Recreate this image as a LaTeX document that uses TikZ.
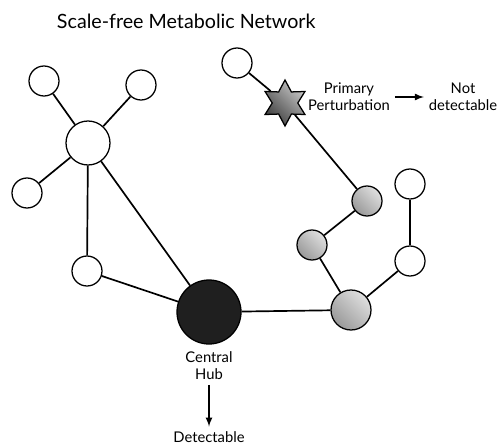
\documentclass[tikz,border=0pt]{standalone}
\usepackage{fontspec}
\setmainfont{Lato}
\usetikzlibrary{positioning}
\usetikzlibrary{arrows}
\usetikzlibrary{shapes.geometric}
\tikzset{plein/.style={line width=1.2pt}}
\tikzset{blanc/.style={shape=circle,draw,line width=0.9pt,fill=white,inner sep=0pt,minimum size=0.75cm}}
\tikzset{gris/.style={blanc,left color=gray!25,right color=gray!80,shading angle=-45}}
\tikzset{etiq/.style={align=center,font=\fontsize{10.5pt}{12pt}\selectfont}}

\begin{document}
\begin{tikzpicture}[x=0.025cm,y=-0.025cm]
\useasboundingbox (0,0) rectangle (497,446);
\node[anchor=west,font=\fontsize{14pt}{16pt}\selectfont] (T) at (52,21) {Scale-free Metabolic Network};

\node(Hw) at (88,143) [blanc,minimum size=1.1cm] {};
\node(W1) at (44,81) [blanc] {};
\node(W2) at (141,85) [blanc] {};
\node(W3) at (27,193) [blanc] {};
\node(W4) at (87,271) [blanc] {};
\node(C) at (209,312) [shape=circle,draw,line width=0.9pt,fill=black!88,minimum size=1.6cm] {};
\node(G3) at (351,310) [gris,minimum size=1cm] {};
\node(G2) at (312,245) [gris] {};
\node(G1) at (367,201) [gris] {};
\node(R2) at (410,261) [blanc] {};
\node(R1) at (410,184) [blanc] {};
\node(P) at (237,63) [blanc] {};
\node(S) at (285,103) [shape=star,star points=6,star point ratio=1.8,minimum size=1.15cm,inner sep=0pt,draw,line width=0.9pt,left color=gray!45,right color=black!75,shading angle=-45] {};

\node(Pp) at (349,97) [etiq] {Primary\\Perturbation};
\node(Nd) at (463,97) [etiq] {Not\\detectable};
\node(Ch) at (209,366) [etiq] {Central\\Hub};
\node(D) at (209,437) [etiq] {Detectable};

\draw[plein] (Hw)--(W1);
\draw[plein] (Hw)--(W2);
\draw[plein] (Hw)--(W3);
\draw[plein] (Hw)--(W4);
\draw[plein] (Hw)--(C);
\draw[plein] (W4)--(C);
\draw[plein] (C)--(G3);
\draw[plein] (G3)--(G2);
\draw[plein] (G2)--(G1);
\draw[plein] (G1)--(S);
\draw[plein] (S)--(P);
\draw[plein] (G3)--(R2);
\draw[plein] (R2)--(R1);

\draw[->, >=latex, plein] (Pp)--(Nd);
\draw[->, >=latex, plein] (Ch)--(D);
\end{tikzpicture}
\end{document}
